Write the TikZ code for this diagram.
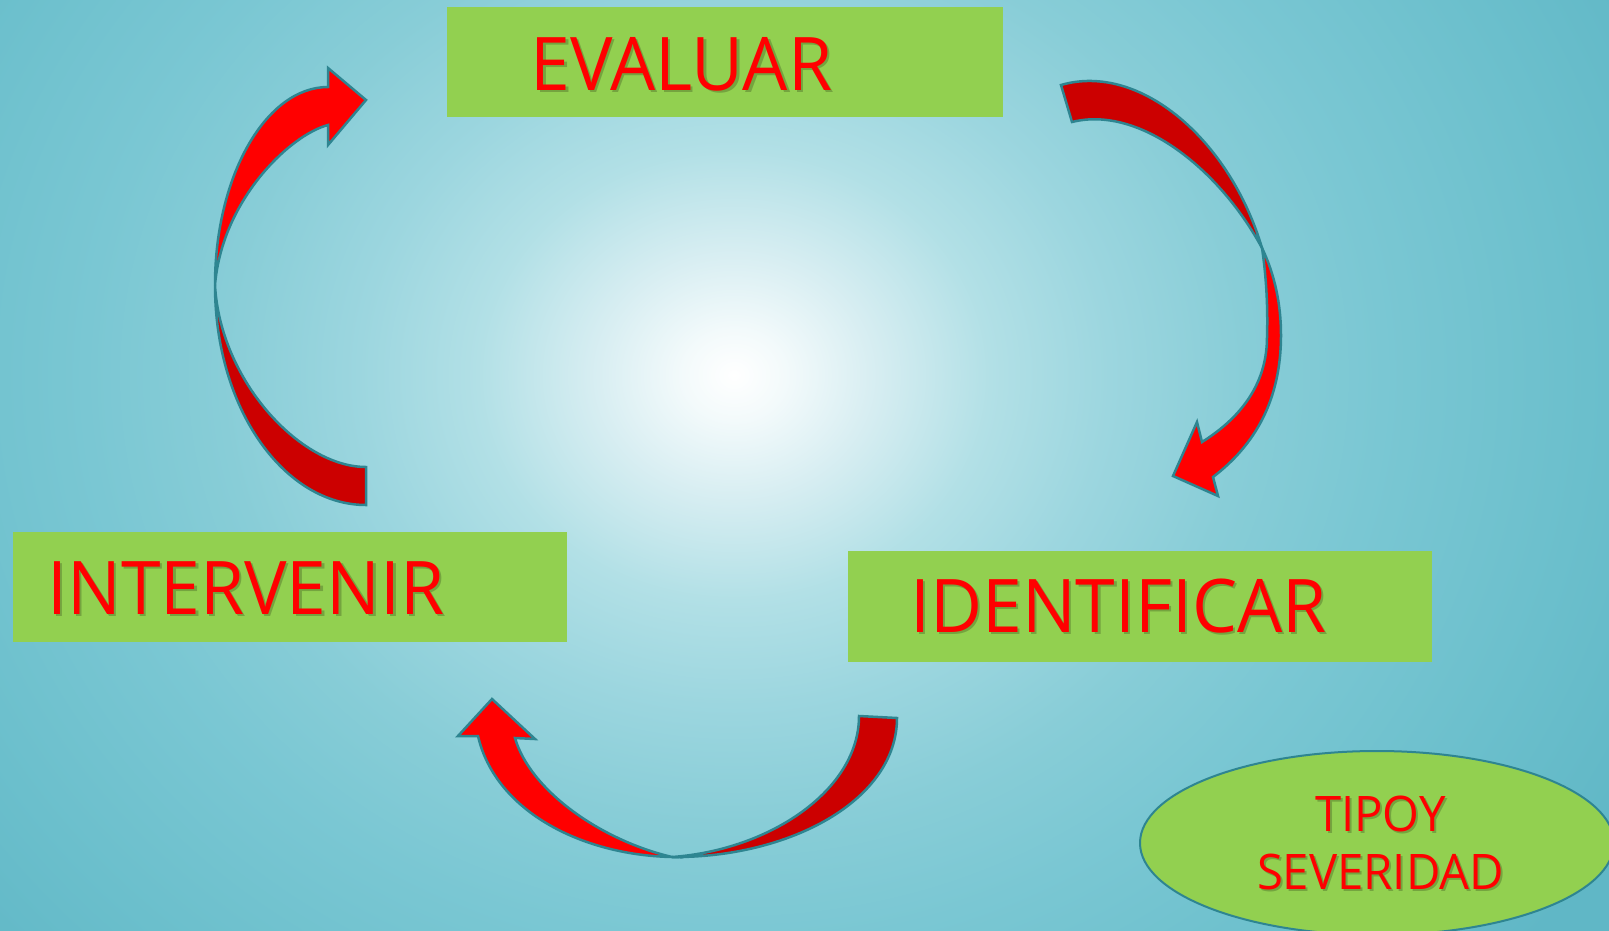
\documentclass[tikz,border=0pt]{standalone}
\usepackage{fontspec}
\setmainfont{Open Sans}
\newfontfamily\labelfont[FakeStretch=0.965]{Open Sans}
\usetikzlibrary{shapes.geometric}
\definecolor{bgA}{HTML}{F3FAFB}
\definecolor{bgB}{HTML}{D8EEF2}
\definecolor{bgC}{HTML}{B2E0E6}
\definecolor{bgD}{HTML}{9CD6DF}
\definecolor{bgE}{HTML}{88CDD7}
\definecolor{bgF}{HTML}{7AC7D3}
\definecolor{bgG}{HTML}{6BBFCC}
\definecolor{bgH}{HTML}{60B7C6}
\definecolor{boxgreen}{HTML}{92D050}
\definecolor{txtred}{HTML}{FF0000}
\definecolor{arrowred}{HTML}{FF0000}
\definecolor{arrowdark}{HTML}{CC0000}
\definecolor{outlinec}{HTML}{2E8591}
\definecolor{shadowc}{HTML}{2F3F18}
\pgfdeclareradialshading{bgshade}{\pgfpoint{0bp}{0bp}}{color(0bp)=(white); color(51bp)=(bgA); color(136bp)=(bgB); color(255bp)=(bgC); color(374bp)=(bgD); color(510bp)=(bgE); color(646bp)=(bgF); color(850bp)=(bgG); color(1020bp)=(bgH); color(1100bp)=(bgH)}
\tikzset{
  greenbox/.style={fill=boxgreen, draw=none, inner sep=0pt},
  lbl/.style={text=txtred, font=\labelfont\fontsize{74}{80}\selectfont, inner sep=0pt, anchor=base},
  lblsmall/.style={text=txtred, font=\labelfont\fontsize{49}{54}\selectfont, inner sep=0pt, anchor=base},
  shadowed/.style={text=shadowc, text opacity=0.3},
  frontarrow/.style={fill=arrowred, draw=outlinec, line width=2.5pt, line join=miter},
  backarrow/.style={fill=arrowdark, draw=outlinec, line width=2.5pt, line join=miter},
}
\begin{document}
\begin{tikzpicture}[x=1pt, y=-1pt]
\useasboundingbox (0,0) rectangle (1609,930);
\begin{scope}
  \clip (0,0) rectangle (1609,930);
  \fill[bgH] (0,0) rectangle (1609,930);
  \begin{scope}[shift={(734,375)}, yscale=0.88]
    \pgflowlevelsynccm
    \pgfuseshading{bgshade}
  \end{scope}
\end{scope}

% boxes
\node[greenbox, minimum width=556pt, minimum height=110pt] (evalbox) at (725,62) {};
\node[greenbox, minimum width=554pt, minimum height=110pt] (intbox) at (290,587) {};
\node[greenbox, minimum width=584pt, minimum height=111pt] (idbox) at (1140,606.5) {};
\node[ellipse, fill=boxgreen, draw=outlinec, line width=2pt, minimum width=474pt, minimum height=184pt, inner sep=0pt] (tipo) at (1377,843) {};

% labels with shadows
\node[lbl, shadowed] (evals) at (684,92.5) {EVALUAR};
\node[lbl] (evaltxt) at (681.5,90) {EVALUAR};
\node[lbl, shadowed] (ints) at (248.5,616.5) {INTERVENIR};
\node[lbl] (inttxt) at (246,614) {INTERVENIR};
\node[lbl, shadowed] (ids) at (1121,634.5) {IDENTIFICAR};
\node[lbl] (idtxt) at (1118.5,632) {IDENTIFICAR};
\node[lblsmall, shadowed] (tps) at (1382.5,833) {TIPOY};
\node[lblsmall] (tptxt) at (1380.5,831) {TIPOY};
\node[lblsmall, shadowed] (svs) at (1382.5,891) {SEVERIDAD};
\node[lblsmall] (svtxt) at (1380.5,889) {SEVERIDAD};

% left arrow (INTERVENIR -> EVALUAR)
\filldraw[backarrow] (215,285) .. controls (215,410) and (285,505) .. (366,505)
  -- (366,467) .. controls (300,467) and (220,380) .. (215,285) -- cycle;
\filldraw[frontarrow] (215,285) .. controls (215,176) and (266,87) .. (328,87)
  -- (328,68) -- (366,100) -- (328,145) -- (328,125)
  .. controls (290,135) and (222,200) .. (215,285) -- cycle;

% right arrow (EVALUAR -> IDENTIFICAR)
\filldraw[backarrow] (1061,85) .. controls (1140,62) and (1230,140) .. (1262,248)
  .. controls (1220,170) and (1140,105) .. (1072,122) -- cycle;
\filldraw[frontarrow] (1262,248) .. controls (1275,275) and (1281,305) .. (1281,335)
  .. controls (1281,400) and (1255,445) .. (1213,477)
  -- (1218,496) -- (1173,476) -- (1197,422) -- (1202,442)
  .. controls (1245,415) and (1267,380) .. (1267,337)
  .. controls (1268,305) and (1266,275) .. (1262,248) -- cycle;

% bottom arrow (IDENTIFICAR -> INTERVENIR)
\filldraw[backarrow] (897,718) .. controls (897,800) and (790,858) .. (672,857)
  .. controls (770,850) and (859,790) .. (859,716) -- cycle;
\filldraw[frontarrow] (672,857) .. controls (580,855) and (495,810) .. (478,736)
  -- (458,736) -- (492,699) -- (535,739) -- (515,738)
  .. controls (530,790) and (600,840) .. (672,857) -- cycle;
\end{tikzpicture}
\end{document}
